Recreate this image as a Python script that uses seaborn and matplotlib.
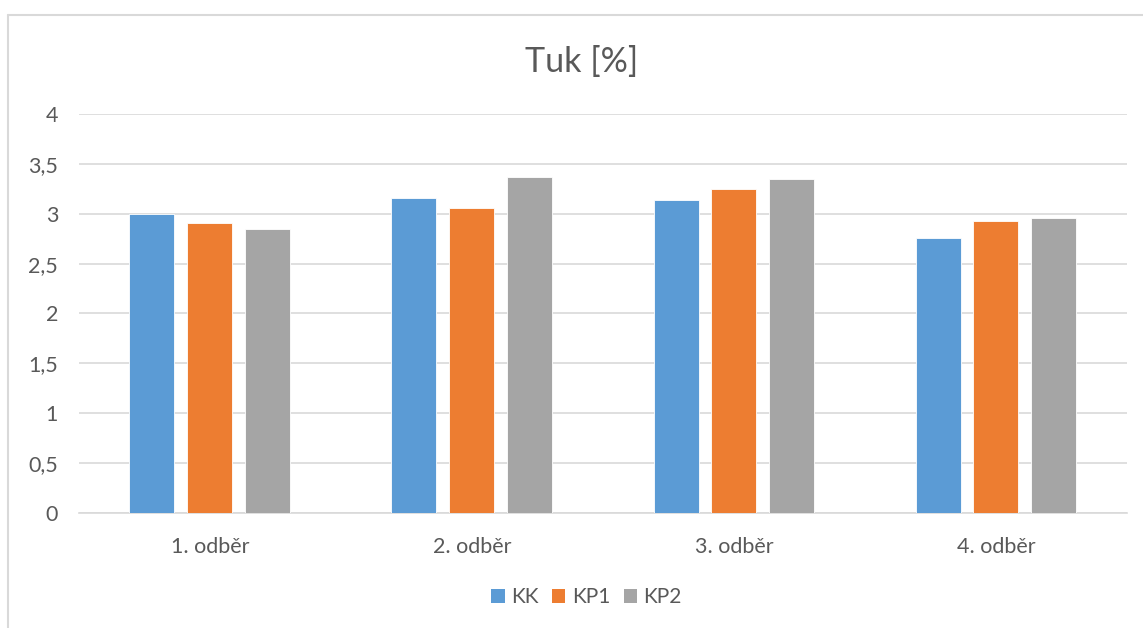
import matplotlib
matplotlib.use("Agg")
import matplotlib.pyplot as plt
from matplotlib.lines import Line2D
import seaborn as sns
import pandas as pd

# Fat content per sampling round and group
categories = ["1. odběr", "2. odběr", "3. odběr", "4. odběr"]
series_names = ["KK", "KP1", "KP2"]
kk = [3.00, 3.16, 3.14, 2.76]
kp1 = [2.91, 3.06, 3.25, 2.93]
kp2 = [2.85, 3.37, 3.35, 2.96]
y_ticks = [0, 0.5, 1, 1.5, 2, 2.5, 3, 3.5, 4]
y_tick_labels = ["0", "0,5", "1", "1,5", "2", "2,5", "3", "3,5", "4"]

colors = ["#5B9BD5", "#ED7D31", "#A5A5A5"]
text_color = "#595959"
grid_color = "#D9D9D9"

rows = []
for name, vals in zip(series_names, [kk, kp1, kp2]):
    for cat, v in zip(categories, vals):
        rows.append({"odber": cat, "skupina": name, "tuk": v})
df = pd.DataFrame(rows)

sns.set_theme(style="white")
plt.rcParams["font.family"] = ["Lato", "DejaVu Sans"]

fig = plt.figure(figsize=(11.43, 6.28), dpi=100)
ax = fig.add_axes([0.0691, 0.1831, 0.9169, 0.6354])

sns.barplot(data=df, x="odber", y="tuk", hue="skupina", order=categories,
            hue_order=series_names, palette=colors, saturation=1,
            width=0.664, gap=0.224, edgecolor="white", linewidth=0.6,
            ax=ax, legend=False, zorder=3)

ax.set_xlim(-0.5, 3.5)
ax.set_ylim(0, 4)
ax.set_yticks(y_ticks)
ax.set_yticklabels(y_tick_labels)
ax.yaxis.grid(True, color=grid_color, linewidth=1.2, zorder=0)
ax.set_axisbelow(True)
for side in ["left", "right", "top"]:
    ax.spines[side].set_visible(False)
ax.spines["bottom"].set_color(grid_color)
ax.spines["bottom"].set_linewidth(1.2)
ax.tick_params(axis="both", length=0, labelsize=15.5, colors=text_color)
ax.tick_params(axis="y", pad=15)
ax.tick_params(axis="x", pad=17)
ax.set_xlabel("")
ax.set_ylabel("")

fig.text(0.509, 0.901, "Tuk [%]", ha="center", va="center",
         fontsize=24.5, color=text_color)

handles = [plt.Rectangle((0, 0), 1, 1, facecolor=c, edgecolor="none") for c in colors]
fig.legend(handles, series_names, loc="center", bbox_to_anchor=(0.513, 0.049),
           ncol=3, frameon=False, fontsize=15, labelcolor=text_color,
           handlelength=0.65, handleheight=0.65, handletextpad=0.3,
           columnspacing=0.65)

# Chart area frame
frame_kw = dict(color="#D9D9D9", linewidth=1.5, transform=fig.transFigure)
fig.add_artist(Line2D([8 / 1143, 1.0], [1 - 15 / 628, 1 - 15 / 628], **frame_kw))
fig.add_artist(Line2D([8 / 1143, 8 / 1143], [0.0, 1 - 15 / 628], **frame_kw))

fig.savefig("out.png", dpi=100, facecolor="white")
